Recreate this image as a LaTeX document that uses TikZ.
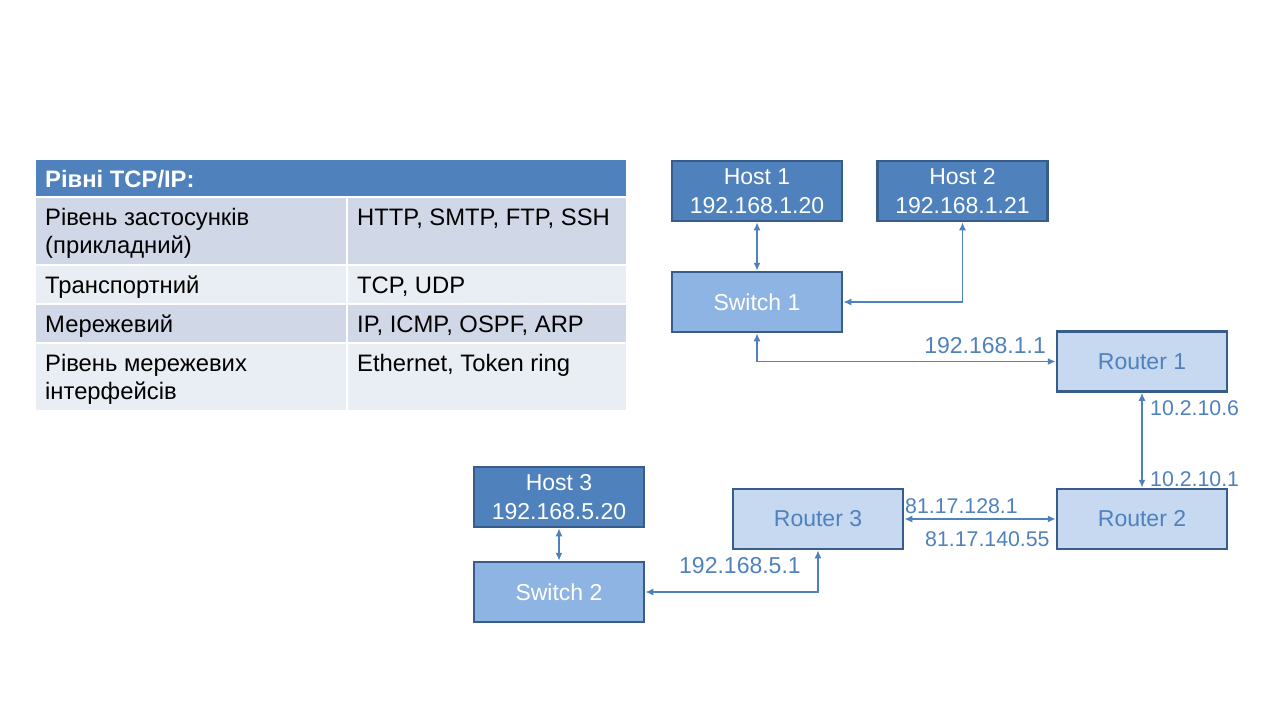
\documentclass[tikz,border=0pt]{standalone}
\usepackage{fontspec}
\setmainfont{Liberation Sans}
\usetikzlibrary{arrows.meta}
\definecolor{hostblue}{HTML}{4F81BD}
\definecolor{edgeblue}{HTML}{385D8A}
\definecolor{switchblue}{HTML}{8EB4E3}
\definecolor{routerblue}{HTML}{C6D9F1}
\definecolor{rowdark}{HTML}{D0D8E8}
\definecolor{rowlight}{HTML}{E9EDF4}
\begin{document}
\begin{tikzpicture}[x=1pt,y=-1pt,
        box/.style={draw=edgeblue, line width=2.5pt, minimum width=170pt,
            minimum height=60pt, inner sep=0pt, align=center,
            font=\fontsize{23}{29}\selectfont},
        host/.style={box, fill=hostblue, text=white},
        switch/.style={box, fill=switchblue, text=white},
        router/.style={box, fill=routerblue, text=hostblue},
        link/.style={draw=hostblue, line width=1.75pt,
            {Latex[length=8pt,width=7pt]}-{Latex[length=8pt,width=7pt]}},
        addr/.style={text=hostblue, inner sep=0pt, font=\fontsize{23}{28}\selectfont},
        addrsmall/.style={addr, font=\fontsize{21.3}{26}\selectfont},
        cell/.style={inner sep=0pt, anchor=base west, align=left,
            font=\fontsize{23.8}{28.5}\selectfont}]
\useasboundingbox (0,0) rectangle (1280,720);

\fill[hostblue] (36,160) rectangle (626,196);
\fill[rowdark]  (36,198) rectangle (626,264);
\fill[rowlight] (36,266) rectangle (626,303);
\fill[rowdark]  (36,305) rectangle (626,342);
\fill[rowlight] (36,344) rectangle (626,410);
\draw[white, line width=2pt] (347,198) -- (347,410);

\node[cell, text=white, font=\fontsize{23.8}{28.5}\selectfont\bfseries] (head) at (45,187) {Рівні TCP/IP:};
\node[cell] (app)  at (45,253.5) {Рівень застосунків\\(прикладний)};
\node[cell] (appp) at (357,225) {HTTP, SMTP, FTP, SSH};
\node[cell] (tr)   at (45,293) {Транспортний};
\node[cell] (trp)  at (357,293) {TCP, UDP};
\node[cell] (net)  at (45,332) {Мережевий};
\node[cell] (netp) at (357,332) {IP, ICMP, OSPF, ARP};
\node[cell] (lnk)  at (45,399.5) {Рівень мережевих\\інтерфейсів};
\node[cell] (lnkp) at (357,371) {Ethernet, Token ring};

\node[host] (host1) at (757,191) {Host 1\\192.168.1.20};
\node[host] (host2) at (962.5,191) {Host 2\\192.168.1.21};
\node[switch] (sw1) at (757,302) {Switch 1};
\node[router] (r1) at (1142,361.5) {Router 1};
\node[router] (r2) at (1142,519) {Router 2};
\node[router] (r3) at (818,519) {Router 3};
\node[host] (host3) at (559,497) {Host 3\\192.168.5.20};
\node[switch] (sw2) at (559,592) {Switch 2};

\draw[link] (host1) -- (sw1);
\draw[link] (host2.south) |- (sw1.east);
\draw[link] (sw1.south) |- (r1.west);
\draw[link] (r1) -- (r2);
\draw[link] (r3) -- (r2);
\draw[link] (host3) -- (sw2);
\draw[link] (r3.south) |- (sw2.east);

\node[addr, anchor=base east] (a1) at (1046,353) {192.168.1.1};
\node[addrsmall, anchor=base west] (a2) at (1150,415) {10.2.10.6};
\node[addrsmall, anchor=base west] (a3) at (1150,486) {10.2.10.1};
\node[addrsmall, anchor=base west] (a4) at (905,513) {81.17.128.1};
\node[addrsmall, anchor=base west] (a5) at (925,546) {81.17.140.55};
\node[addr, anchor=base west] (a6) at (679,573) {192.168.5.1};

\end{tikzpicture}
\end{document}
